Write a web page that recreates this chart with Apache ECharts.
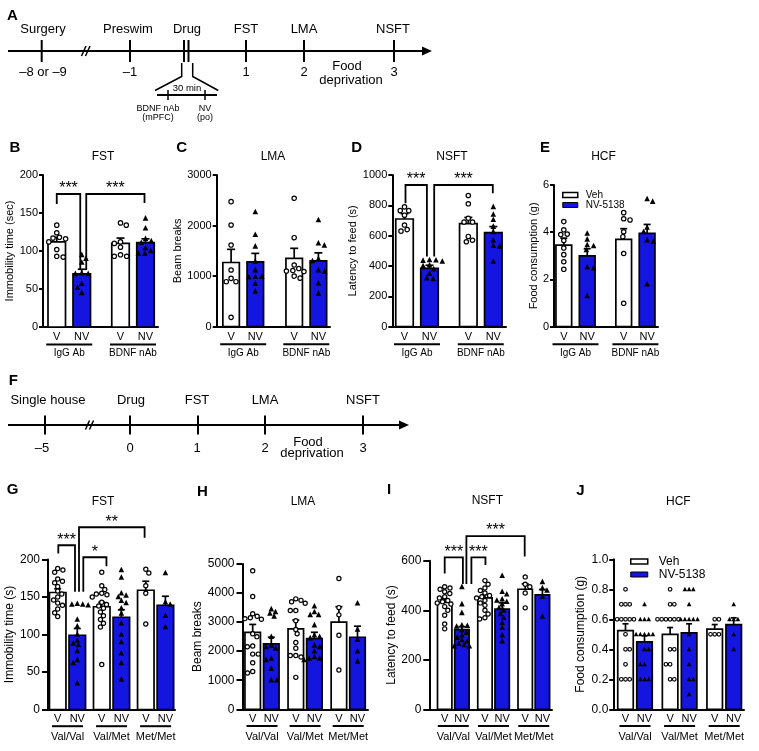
<!DOCTYPE html>
<html><head><meta charset="utf-8">
<script src="https://cdn.jsdelivr.net/npm/echarts@6/dist/echarts.min.js"></script>
<style>html,body{margin:0;padding:0;background:#fff}#c{width:759px;height:751px}</style>
</head><body><div id="c"></div>
<script>
// ---------------- DATA ----------------
const treatLabels = ['V', 'NV'];
const legendNames = ['Veh', 'NV-5138'];
const groupsTop = ['IgG Ab', 'BDNF nAb'];
const groupsBottom = ['Val/Val', 'Val/Met', 'Met/Met'];

// B  FST (sec)
const yTicksB = [0, 50, 100, 150, 200];
const meanB_Veh = [112, 110], semB_Veh = [6, 7];
const meanB_NV = [70, 111], semB_NV = [6, 5];
const ptsB_Veh = [[134,124,118,117,116,112,102,93,92],[137,134,112,110,105,95,93,93]];
const ptsB_NV = [[95,90,85,71,70,70,57,52,45],[143,130,116,113,111,104,100,97,97]];
const bracketsB = [
  {a:[0,0], b:[0,1], top:175, legs:[162,75], text:'***'},
  {a:[0,1], b:[1,1], top:175, legs:[75,163], text:'***'}
];

// C  LMA
const yTicksC = [0, 1000, 2000, 3000];
const meanC_Veh = [1270, 1350], semC_Veh = [260, 200];
const meanC_NV = [1280, 1300], semC_NV = [170, 160];
const ptsC_Veh = [[2473,2011,1615,1121,956,890,890,185],[2540,1760,1220,1150,1110,1100,1090,1000,960]];
const ptsC_NV = [[2270,1820,1590,1290,1120,990,980,990,850,700],[2110,1650,1610,1340,1300,1120,1090,860,660]];

// D  NSFT
const yTicksD = [0, 200, 400, 600, 800, 1000];
const meanD_Veh = [710, 680], semD_Veh = [35, 40];
const meanD_NV = [385, 620], semD_NV = [20, 40];
const ptsD_Veh = [[790,765,765,735,670,640,630],[865,810,715,690,690,595,570,560]];
const ptsD_NV = [[440,438,436,430,405,400,380,350,320,315],[790,740,705,660,625,570,535,530,430]];
const bracketsD = [
  {a:[0,0], b:[0,1], top:934, legs:[813,462], text:'***'},
  {a:[0,1], b:[1,1], top:934, legs:[462,879], text:'***'}
];

// E  HCF
const yTicksE = [0, 2, 4, 6];
const meanE_Veh = [3.45, 3.7], semE_Veh = [0.3, 0.45];
const meanE_NV = [3.0, 3.95], semE_NV = [0.3, 0.38];
const ptsE_Veh = [[4.45,4.1,3.92,3.9,3.65,3.33,3.05,2.75,2.43],[4.83,4.57,4.52,4.02,3.81,3.1,0.99]];
const ptsE_NV = [[3.95,3.7,3.46,3.42,3.25,2.52,2.48,1.3],[5.41,5.3,4.2,4.02,3.67,3.6,1.8]];

// G  FST (s)
const yTicksG = [0, 50, 100, 150, 200];
const meanG_Veh = [156, 137, 159], semG_Veh = [5, 6, 12];
const meanG_NV = [99, 123, 139], semG_NV = [9, 10, 12];
const ptsG_Veh = [[188,186,183,174,171,169,164,158,154,150,146,142,139,134,129,124],[183,165,160,155,154,153,150,143,140,138,135,130,125,120,115,110,60],[187,182,165,155,114]];
const ptsG_NV = [[141,140,140,139,120,111,100,92,88,86,78,66,62,35],[186,176,155,152,150,145,142,135,128,115,100,90,75,62,40],[182,143,140,125,110]];
const bracketsG = [
  {a:[0,0], b:[0,1], top:219, legs:[208,157], text:'***'},
  {a:[0,1], b:[2,0], top:243, legs:[157,229], text:'**'},
  {a:[0,1], b:[1,0], top:203, legs:[157,191], text:'*'}
];

// H  LMA
const yTicksH = [0, 1000, 2000, 3000, 4000, 5000];
const meanH_Veh = [2650, 2770, 3000], semH_Veh = [270, 300, 530];
const meanH_NV = [2250, 2430, 2480], semH_NV = [230, 220, 380];
const ptsH_Veh = [[4770,3880,3290,3200,3150,3120,3100,2600,2500,2180,2150,1900,1900,1600,1300,1250],[3800,3750,3700,3650,3400,3400,3050,2750,2600,2300,2100,1850,1850,1800,1100],[4500,3500,3250,2550,1350]];
const ptsH_NV = [[3450,3350,3300,3200,2500,2200,2150,2100,1750,1700,1400,1000,1000],[3550,3350,3250,3250,2900,2550,2500,2450,2200,2150,2000,1800,1750,1750,1700],[3650,2750,2400,2000,1650]];

// I  NSFT
const yTicksI = [0, 200, 400, 600];
const meanI_Veh = [432, 450, 485], semI_Veh = [15, 14, 22];
const meanI_NV = [322, 405, 462], semI_NV = [12, 25, 22];
const ptsI_Veh = [[495,490,485,475,468,455,450,440,435,430,425,415,400,380,345,325],[520,505,490,480,470,460,455,450,440,430,420,400,385,370,365],[535,505,495,470,410]];
const ptsI_NV = [[495,425,390,340,338,335,320,310,300,290,280,275,265,260,255,255],[540,475,465,445,440,435,425,410,400,385,370,350,330,300,275],[515,490,480,455,375]];
const bracketsI = [
  {a:[0,0], b:[0,1], top:614, legs:[549,506], text:'***'},
  {a:[0,1], b:[1,0], top:614, legs:[506,583], text:'***'},
  {a:[0,1], b:[2,0], top:700, legs:[506,617], text:'***'}
];

// J  HCF
const yTicksJ = [0, 0.2, 0.4, 0.6, 0.8, 1.0];
const meanJ_Veh = [0.525, 0.5, 0.535], semJ_Veh = [0.045, 0.045, 0.03];
const meanJ_NV = [0.45, 0.51, 0.565], semJ_NV = [0.04, 0.06, 0.045];
const ptsJ_Veh = [[0.8,0.7,0.7,0.7,0.6,0.6,0.6,0.6,0.6,0.5,0.4,0.4,0.3,0.2,0.2,0.2],[0.8,0.7,0.7,0.6,0.6,0.6,0.6,0.6,0.6,0.4,0.4,0.3,0.3,0.2,0.2],[0.6,0.6,0.5,0.5,0.5]];
const ptsJ_NV = [[0.7,0.6,0.6,0.6,0.5,0.5,0.5,0.5,0.5,0.4,0.4,0.3,0.3,0.2,0.2,0.2],[0.8,0.8,0.8,0.7,0.6,0.6,0.6,0.6,0.6,0.5,0.4,0.3,0.2,0.2,0.1],[0.7,0.6,0.6,0.6,0.5,0.4]];

// ---------------- STYLE / LAYOUT ----------------
const FONT = '"Liberation Sans", Arial, Helvetica, sans-serif';
const BLUE = '#1515e0';
const topBase = {tickLen:4, tickMargin:5, tickFont:11, nameFont:11, lblDy:10, ulDy:17.5, grpDy:26.5, ulHalf:23, lblFont:11, grpFont:10, r:2.2, lw:1.2, tri:5.6, sx:6.5, sy:5, cap:8, starDy:5, starFont:16};
const botBase = {tickLen:6, tickMargin:8, tickFont:12, nameFont:12, lblDy:9.5, ulDy:16.7, grpDy:27.3, ulHalf:15.5, lblFont:11, grpFont:11, r:2.1, lw:1.2, tri:5.6, sx:5.5, sy:4.5, cap:7, starDy:5, starFont:16};
const L = {
  B: Object.assign({}, topBase, {left:43, right:158, top:175, bottom:327, g0:69.25, sp:63.75, half:12.5, barW:17.5, nameGap:25}),
  C: Object.assign({}, topBase, {left:216.7, right:330, top:175, bottom:326.7, g0:243.2, sp:63.1, half:12.1, barW:16.5, nameGap:22}),
  D: Object.assign({}, topBase, {left:392.3, right:506, top:175, bottom:326.7, g0:417, sp:63.8, half:12.5, barW:17.5, nameGap:26}),
  E: Object.assign({}, topBase, {left:554, right:658, top:185, bottom:326.7, g0:575.5, sp:59.9, half:11.7, barW:15.7, nameGap:14, cap:7}),
  G: Object.assign({}, botBase, {left:48, right:175, top:559.5, bottom:709.5, g0:67.5, sp:44.05, half:9.8, barW:16.5, nameGap:30}),
  H: Object.assign({}, botBase, {left:242.5, right:368, top:564, bottom:709.3, g0:262, sp:43.1, half:9.3, barW:15.5, nameGap:34}),
  I: Object.assign({}, botBase, {left:429.3, right:552, top:560.8, bottom:709.3, g0:453.3, sp:40.25, half:8.6, barW:14.4, nameGap:32}),
  J: Object.assign({}, botBase, {left:613.3, right:744, top:559.3, bottom:709.3, g0:635, sp:44.6, half:9.5, barW:15.5, nameGap:27, tickLen:4, tickMargin:5, r:1.8, tri:4.6, sx:4.2, sy:3.5, cap:6})
};
const nudgeB = [[0,-1.5],[4.5,-1]];
const nudgeD = [[1,-2.6],[4.7,-0.5]];
const nudgeG = [[0.6,-2.3],[1.7,-1.2],[6,4.7]];
const nudgeI = [[0,1],[9.5,0.5],[4.5,-0.5]];

const plainFmt = (v) => String(v);
const panels = [
  {id:'B', title:'FST', groups:groupsTop, yTicks:yTicksB, yName:'Immobility time (sec)', veh:[meanB_Veh,semB_Veh,ptsB_Veh], nv:[meanB_NV,semB_NV,ptsB_NV], br:bracketsB, nudge:nudgeB},
  {id:'C', title:'LMA', groups:groupsTop, yTicks:yTicksC, yName:'Beam breaks', veh:[meanC_Veh,semC_Veh,ptsC_Veh], nv:[meanC_NV,semC_NV,ptsC_NV]},
  {id:'D', title:'NSFT', groups:groupsTop, yTicks:yTicksD, yName:'Latency to feed (s)', veh:[meanD_Veh,semD_Veh,ptsD_Veh], nv:[meanD_NV,semD_NV,ptsD_NV], br:bracketsD, nudge:nudgeD},
  {id:'E', title:'HCF', groups:groupsTop, yTicks:yTicksE, yName:'Food consumption (g)', veh:[meanE_Veh,semE_Veh,ptsE_Veh], nv:[meanE_NV,semE_NV,ptsE_NV]},
  {id:'G', title:'FST', groups:groupsBottom, yTicks:yTicksG, yName:'Immobility time (s)', veh:[meanG_Veh,semG_Veh,ptsG_Veh], nv:[meanG_NV,semG_NV,ptsG_NV], br:bracketsG, nudge:nudgeG},
  {id:'H', title:'LMA', groups:groupsBottom, yTicks:yTicksH, yName:'Beam breaks', veh:[meanH_Veh,semH_Veh,ptsH_Veh], nv:[meanH_NV,semH_NV,ptsH_NV]},
  {id:'I', title:'NSFT', groups:groupsBottom, yTicks:yTicksI, yName:'Latency to feed (s)', veh:[meanI_Veh,semI_Veh,ptsI_Veh], nv:[meanI_NV,semI_NV,ptsI_NV], br:bracketsI, nudge:nudgeI},
  {id:'J', title:'HCF', groups:groupsBottom, yTicks:yTicksJ, yName:'Food consumption (g)', veh:[meanJ_Veh,semJ_Veh,ptsJ_Veh], nv:[meanJ_NV,semJ_NV,ptsJ_NV], fmt:(v)=>v.toFixed(1)}
];

// beeswarm horizontal offsets (px) for a set of values
function beeswarm(values, pxPerUnit, sx, sy) {
  const idx = values.map((v,i)=>i).sort((a,b)=>values[b]-values[a]);
  const placed = [], off = new Array(values.length);
  let flip = 1;
  idx.forEach(i => {
    const y = values[i]*pxPerUnit;
    const forb = [];
    placed.forEach(p => {
      const dy = Math.abs(p.y - y);
      if (dy < sy) { const w = sx*Math.sqrt(1-(dy/sy)*(dy/sy)); forb.push([p.x-w, p.x+w]); }
    });
    const cands = [0];
    forb.forEach(f => cands.push(f[0], f[1]));
    cands.sort((a,b)=> (Math.abs(a)-Math.abs(b)) || flip*(b-a));
    let best = 0;
    for (const c of cands) {
      if (forb.every(f => c <= f[0]+1e-6 || c >= f[1]-1e-6)) { best = c; break; }
    }
    if (best !== 0) flip = -flip;
    off[i] = best; placed.push({x:best, y});
  });
  return off;
}

function txt(text, x, y, font, extra) {
  return Object.assign({type:'text', x, y, style:{text, font, fill:'#000', align:'center', verticalAlign:'middle', textAlign:'center', textVerticalAlign:'middle'}}, extra||{});
}

const grid=[], xAxis=[], yAxis=[], series=[];
panels.forEach((p, i) => {
  const l = L[p.id];
  const yt = p.yTicks;
  const ymin = yt[0], ymax = yt[yt.length-1];
  const ppu = (l.bottom-l.top)/(ymax-ymin);
  grid.push({left:l.left, top:l.top, width:l.right-l.left, height:l.bottom-l.top});
  xAxis.push({type:'value', gridIndex:i, min:(l.left-l.g0)/l.sp, max:(l.right-l.g0)/l.sp,
    axisLine:{show:true, onZero:false, lineStyle:{color:'#000', width:2}}, axisTick:{show:false}, axisLabel:{show:false}, splitLine:{show:false}});
  yAxis.push({type:'value', gridIndex:i, min:ymin, max:ymax, interval:yt[1]-yt[0],
    axisLine:{show:true, onZero:false, lineStyle:{color:'#000', width:2}},
    axisTick:{show:true, length:l.tickLen, lineStyle:{color:'#000', width:2}},
    axisLabel:{color:'#000', fontSize:l.tickFont, fontFamily:FONT, margin:l.tickMargin, formatter:p.fmt || plainFmt},
    splitLine:{show:false}, name:p.yName, nameLocation:'middle', nameGap:l.nameGap,
    nameTextStyle:{color:'#000', fontSize:l.nameFont, fontFamily:FONT}});

  [p.veh, p.nv].forEach((d, k) => {
    const side = k ? 1 : -1;
    // bars with SEM
    series.push({type:'custom', name:legendNames[k], xAxisIndex:i, yAxisIndex:i, silent:true, z:2,
      encode:{x:0, y:1},
      data:d[0].map((m,g)=>[g, m, d[1][g]]),
      renderItem:(params, api) => {
        const g=api.value(0), m=api.value(1), s=api.value(2);
        const p0=api.coord([g,0]), p1=api.coord([g,m]), pe=api.coord([g,m+s]);
        const xc=p0[0]+side*l.half, w=l.barW;
        return {type:'group', children:[
          {type:'rect', shape:{x:xc-w/2, y:p1[1], width:w, height:p0[1]-p1[1]}, style:{fill:k?BLUE:'#fff', stroke:'#000', lineWidth:1.7}},
          {type:'line', shape:{x1:xc, y1:p1[1], x2:xc, y2:pe[1]}, style:{stroke:'#000', lineWidth:1.7}},
          {type:'line', shape:{x1:xc-l.cap/2, y1:pe[1], x2:xc+l.cap/2, y2:pe[1]}, style:{stroke:'#000', lineWidth:1.7}}
        ]};
      }});
    // individual points
    const pdata = [];
    d[2].forEach((vals, g) => {
      const off = beeswarm(vals, ppu, l.sx, l.sy);
      vals.forEach((v, j) => pdata.push([g, v, off[j]]));
    });
    series.push({type:'custom', name:'pts'+p.id+k, xAxisIndex:i, yAxisIndex:i, silent:true, z:3,
      encode:{x:0, y:1}, data:pdata,
      renderItem:(params, api) => {
        const c=api.coord([api.value(0), api.value(1)]);
        const x=c[0]+side*l.half+api.value(2), y=c[1];
        if (!k) return {type:'circle', shape:{cx:x, cy:y, r:l.r}, style:{fill:'#fff', stroke:'#000', lineWidth:l.lw}};
        const s=l.tri;
        return {type:'polygon', shape:{points:[[x,y-s*0.58],[x-s*0.5,y+s*0.42],[x+s*0.5,y+s*0.42]]}, style:{fill:'#000', stroke:null}};
      }});
  });

  // x labels, underline, group labels
  series.push({type:'custom', name:'xl'+p.id, xAxisIndex:i, yAxisIndex:i, silent:true, z:3,
    encode:{x:0, y:1}, data:p.groups.map((gname,g)=>[g, 0]),
    renderItem:(params, api) => {
      const g=api.value(0), c=api.coord([g,0]);
      const ch=[];
      treatLabels.forEach((t,k)=>ch.push(txt(t, c[0]+(k?1:-1)*l.half, c[1]+l.lblDy, l.lblFont+'px '+FONT)));
      ch.push({type:'line', shape:{x1:c[0]-l.ulHalf, y1:c[1]+l.ulDy, x2:c[0]+l.ulHalf, y2:c[1]+l.ulDy}, style:{stroke:'#000', lineWidth:2}});
      ch.push(txt(p.groups[g], c[0], c[1]+l.grpDy, l.grpFont+'px '+FONT));
      return {type:'group', children:ch};
    }});

  // significance brackets
  if (p.br) {
    series.push({type:'custom', name:'br'+p.id, xAxisIndex:i, yAxisIndex:i, silent:true, z:4,
      encode:{x:0, y:1}, data:p.br.map(b=>[b.a[0], b.top]),
      renderItem:(params, api) => {
        const b=p.br[params.dataIndex], n=p.nudge[params.dataIndex];
        const xa=api.coord([b.a[0],0])[0]+(b.a[1]?1:-1)*l.half+n[0];
        const xb=api.coord([b.b[0],0])[0]+(b.b[1]?1:-1)*l.half+n[1];
        const yt=api.coord([0,b.top])[1], ya=api.coord([0,b.legs[0]])[1], yb=api.coord([0,b.legs[1]])[1];
        return {type:'group', children:[
          {type:'polyline', shape:{points:[[xa,ya],[xa,yt],[xb,yt],[xb,yb]]}, style:{stroke:'#000', lineWidth:1.8, fill:'none'}},
          txt(b.text, (xa+xb)/2, yt-l.starDy, l.starFont+'px '+FONT)
        ]};
      }});
  }
});

// ---------------- GRAPHICS (timelines, titles, letters) ----------------
const G = [];
function gl(x1,y1,x2,y2,w){ G.push({type:'line', shape:{x1,y1,x2,y2}, style:{stroke:'#000', lineWidth:w||2}}); }
function gt(t,x,y,size,bold){ G.push(txt(t,x,y,(bold?'bold ':'')+size+'px '+FONT)); }
function gpoly(pts){ G.push({type:'polyline', shape:{points:pts}, style:{stroke:'#000', lineWidth:1.5, fill:'none'}}); }

// Timeline A
gl(8,51,424,51,2);
G.push({type:'polygon', shape:{points:[[432,51],[422,46.5],[422,55.5]]}, style:{fill:'#000'}});
[41.7,130,246,304,394].forEach(x=>gl(x,40,x,62,2));
gl(184,40,184,62,2); gl(188.5,40,188.5,62,2);
gl(81.5,56,86,46,1.5); gl(85.5,56,90,46,1.5);
[['Surgery',43],['Preswim',128],['Drug',187],['FST',246],['LMA',304],['NSFT',393]].forEach(a=>gt(a[0],a[1],29,13));
[['\u20138 or \u20139',43],['\u20131',130],['1',246],['2',304],['3',394]].forEach(a=>gt(a[0],a[1],72,13));
gt('Food',347,66.5,13); gt('deprivation',351,80,13);
gpoly([[181.7,63],[181.7,76.5],[155,90.5]]);
gpoly([[192.7,63],[192.7,76.5],[218.3,90.5]]);
gl(157,95,217,95,2); gl(168,90,168,100,1.5); gl(205,90,205,100,1.5);
gt('30 min',187,88,9.5);
gt('BDNF nAb',158,109,9); gt('(mPFC)',158,118,9); gt('NV',205,109,9); gt('(po)',205,118,9);

// Timeline F
gl(8,425,401,425,2);
G.push({type:'polygon', shape:{points:[[409,425],[399,420.5],[399,429.5]]}, style:{fill:'#000'}});
[45,130,198,265,363].forEach(x=>gl(x,415.5,x,434.5,2));
gl(85.5,429.5,89.5,420.5,1.5); gl(89.5,429.5,93.5,420.5,1.5);
[['Single house',48],['Drug',131],['FST',197],['LMA',265],['NSFT',363]].forEach(a=>gt(a[0],a[1],400,13));
[['\u20135',42],['0',130],['1',197],['2',265],['3',363]].forEach(a=>gt(a[0],a[1],448,13));
gt('Food',308,442,13); gt('deprivation',312,453.5,13);

// Panel letters
[['A',12.5,15.5],['B',15,148],['C',181.7,148],['D',356.7,148],['E',545,148],['F',13.3,381],['G',12.5,490],['H',202.5,491.7],['I',389,490],['J',580.5,491]].forEach(a=>gt(a[0],a[1],a[2],15,true));
// Panel titles
[['FST',103,157],['LMA',273,157],['NSFT',452,157],['HCF',603.5,157],['FST',103,501.7],['LMA',303,501.7],['NSFT',487.3,501],['HCF',678.3,501.7]].forEach(a=>gt(a[0],a[1],a[2],12));

const legendItems = [
  {name:legendNames[0], icon:'rect', itemStyle:{color:'#fff', borderColor:'#000', borderWidth:1.5}},
  {name:legendNames[1], icon:'rect', itemStyle:{color:BLUE, borderColor:'#000', borderWidth:1}}
];

const chart = echarts.init(document.getElementById('c'), null, {renderer:'canvas'});
chart.setOption({
  animation:false,
  backgroundColor:'#fff',
  grid, xAxis, yAxis, series,
  legend:[
    {left:557, top:185, orient:'vertical', itemWidth:15, itemHeight:5, itemGap:0, selectedMode:false,
     textStyle:{fontSize:10, lineHeight:10, fontFamily:FONT, color:'#000', padding:[0,0,0,3]}, data:legendItems},
    {left:625, top:550, orient:'vertical', itemWidth:17, itemHeight:5, itemGap:0, selectedMode:false,
     textStyle:{fontSize:12, lineHeight:13, fontFamily:FONT, color:'#000', padding:[0,0,0,6]}, data:legendItems}
  ],
  graphic:{elements:G}
});
</script>
</body></html>
